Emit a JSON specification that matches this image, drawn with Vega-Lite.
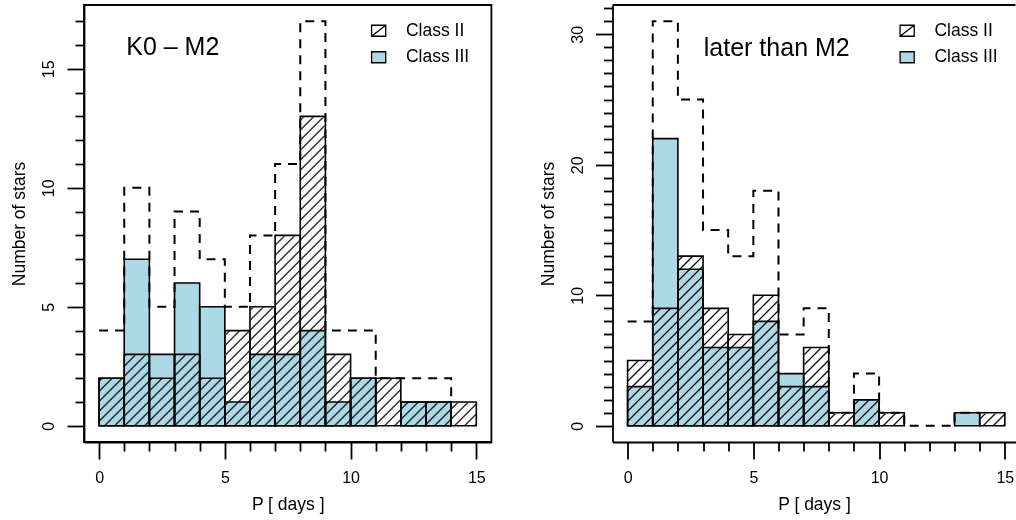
{
  "$schema": "https://vega.github.io/schema/vega-lite/v6.json",
  "padding": {"left": 9, "top": 4, "right": 0, "bottom": 0},
  "spacing": 45.5,
  "background": "white",
  "config": {
    "view": {"stroke": null},
    "font": "Liberation Sans",
    "axis": {"grid": false, "tickCount": 100, "format": "d", "domainColor": "black", "domainWidth": 1.8, "tickColor": "black", "tickWidth": 1.8, "labelColor": "black", "labelFont": "Liberation Sans", "labelFontSize": 16, "titleColor": "black", "titleFont": "Liberation Sans", "titleFontSize": 17.5, "titleFontWeight": "normal", "labelOverlap": false, "labelFlush": false},
    "axisX": {"labelPadding": 10.5, "titlePadding": 8.3, "minExtent": 45, "maxExtent": 45},
    "axisY": {"labelAngle": 270, "labelAlign": "center", "labelBaseline": "bottom", "labelPadding": 10.5, "titlePadding": 15.5, "minExtent": 40, "maxExtent": 40, "titleAngle": 270, "titleBaseline": "bottom"}
  },
  "resolve": {"scale": {"fill": "independent", "shape": "independent"}},
  "hconcat": [
    {
      "width": 407.4,
      "height": 437,
      "view": {"stroke": "black", "strokeWidth": 1.8},
      "data": {"values": [
        {"start": 0, "end": 1, "classII": 2, "classIII": 2, "total": 4},
        {"start": 1, "end": 2, "classII": 3, "classIII": 7, "total": 10},
        {"start": 2, "end": 3, "classII": 2, "classIII": 3, "total": 5},
        {"start": 3, "end": 4, "classII": 3, "classIII": 6, "total": 9},
        {"start": 4, "end": 5, "classII": 2, "classIII": 5, "total": 7},
        {"start": 5, "end": 6, "classII": 4, "classIII": 1, "total": 5},
        {"start": 6, "end": 7, "classII": 5, "classIII": 3, "total": 8},
        {"start": 7, "end": 8, "classII": 8, "classIII": 3, "total": 11},
        {"start": 8, "end": 9, "classII": 13, "classIII": 4, "total": 17},
        {"start": 9, "end": 10, "classII": 3, "classIII": 1, "total": 4},
        {"start": 10, "end": 11, "classII": 2, "classIII": 2, "total": 4},
        {"start": 11, "end": 12, "classII": 2, "classIII": 0, "total": 2},
        {"start": 12, "end": 13, "classII": 1, "classIII": 1, "total": 2},
        {"start": 13, "end": 14, "classII": 1, "classIII": 1, "total": 2},
        {"start": 14, "end": 15, "classII": 1, "classIII": 0, "total": 1}
      ]},
      "layer": [
        {
          "data": {"values": [{}]},
          "mark": {"type": "rect", "strokeWidth": 0, "fill": {"gradient": "linear", "x1": 0, "y1": 0, "x2": 1.0882, "y2": 0.8926, "stops": [
{"offset":0.0048,"color":"#fff"},{"offset":0.0073,"color":"#000"},{"offset":0.0098,"color":"#fff"},
{"offset":0.0193,"color":"#fff"},{"offset":0.0218,"color":"#000"},{"offset":0.0243,"color":"#fff"},
{"offset":0.0339,"color":"#fff"},{"offset":0.0364,"color":"#000"},{"offset":0.0389,"color":"#fff"},
{"offset":0.0485,"color":"#fff"},{"offset":0.0510,"color":"#000"},{"offset":0.0535,"color":"#fff"},
{"offset":0.0630,"color":"#fff"},{"offset":0.0655,"color":"#000"},{"offset":0.0680,"color":"#fff"},
{"offset":0.0776,"color":"#fff"},{"offset":0.0801,"color":"#000"},{"offset":0.0826,"color":"#fff"},
{"offset":0.0921,"color":"#fff"},{"offset":0.0946,"color":"#000"},{"offset":0.0971,"color":"#fff"},
{"offset":0.1067,"color":"#fff"},{"offset":0.1092,"color":"#000"},{"offset":0.1117,"color":"#fff"},
{"offset":0.1213,"color":"#fff"},{"offset":0.1238,"color":"#000"},{"offset":0.1263,"color":"#fff"},
{"offset":0.1358,"color":"#fff"},{"offset":0.1383,"color":"#000"},{"offset":0.1408,"color":"#fff"},
{"offset":0.1504,"color":"#fff"},{"offset":0.1529,"color":"#000"},{"offset":0.1554,"color":"#fff"},
{"offset":0.1649,"color":"#fff"},{"offset":0.1674,"color":"#000"},{"offset":0.1699,"color":"#fff"},
{"offset":0.1795,"color":"#fff"},{"offset":0.1820,"color":"#000"},{"offset":0.1845,"color":"#fff"},
{"offset":0.1941,"color":"#fff"},{"offset":0.1966,"color":"#000"},{"offset":0.1991,"color":"#fff"},
{"offset":0.2086,"color":"#fff"},{"offset":0.2111,"color":"#000"},{"offset":0.2136,"color":"#fff"},
{"offset":0.2232,"color":"#fff"},{"offset":0.2257,"color":"#000"},{"offset":0.2282,"color":"#fff"},
{"offset":0.2377,"color":"#fff"},{"offset":0.2402,"color":"#000"},{"offset":0.2427,"color":"#fff"},
{"offset":0.2523,"color":"#fff"},{"offset":0.2548,"color":"#000"},{"offset":0.2573,"color":"#fff"},
{"offset":0.2669,"color":"#fff"},{"offset":0.2694,"color":"#000"},{"offset":0.2719,"color":"#fff"},
{"offset":0.2814,"color":"#fff"},{"offset":0.2839,"color":"#000"},{"offset":0.2864,"color":"#fff"},
{"offset":0.2960,"color":"#fff"},{"offset":0.2985,"color":"#000"},{"offset":0.3010,"color":"#fff"},
{"offset":0.3105,"color":"#fff"},{"offset":0.3130,"color":"#000"},{"offset":0.3155,"color":"#fff"},
{"offset":0.3251,"color":"#fff"},{"offset":0.3276,"color":"#000"},{"offset":0.3301,"color":"#fff"},
{"offset":0.3397,"color":"#fff"},{"offset":0.3422,"color":"#000"},{"offset":0.3447,"color":"#fff"},
{"offset":0.3542,"color":"#fff"},{"offset":0.3567,"color":"#000"},{"offset":0.3592,"color":"#fff"},
{"offset":0.3688,"color":"#fff"},{"offset":0.3713,"color":"#000"},{"offset":0.3738,"color":"#fff"},
{"offset":0.3833,"color":"#fff"},{"offset":0.3858,"color":"#000"},{"offset":0.3883,"color":"#fff"},
{"offset":0.3979,"color":"#fff"},{"offset":0.4004,"color":"#000"},{"offset":0.4029,"color":"#fff"},
{"offset":0.4125,"color":"#fff"},{"offset":0.4150,"color":"#000"},{"offset":0.4175,"color":"#fff"},
{"offset":0.4270,"color":"#fff"},{"offset":0.4295,"color":"#000"},{"offset":0.4320,"color":"#fff"},
{"offset":0.4416,"color":"#fff"},{"offset":0.4441,"color":"#000"},{"offset":0.4466,"color":"#fff"},
{"offset":0.4561,"color":"#fff"},{"offset":0.4586,"color":"#000"},{"offset":0.4611,"color":"#fff"},
{"offset":0.4707,"color":"#fff"},{"offset":0.4732,"color":"#000"},{"offset":0.4757,"color":"#fff"},
{"offset":0.4853,"color":"#fff"},{"offset":0.4878,"color":"#000"},{"offset":0.4903,"color":"#fff"},
{"offset":0.4998,"color":"#fff"},{"offset":0.5023,"color":"#000"},{"offset":0.5048,"color":"#fff"},
{"offset":0.5144,"color":"#fff"},{"offset":0.5169,"color":"#000"},{"offset":0.5194,"color":"#fff"},
{"offset":0.5289,"color":"#fff"},{"offset":0.5314,"color":"#000"},{"offset":0.5339,"color":"#fff"},
{"offset":0.5435,"color":"#fff"},{"offset":0.5460,"color":"#000"},{"offset":0.5485,"color":"#fff"},
{"offset":0.5581,"color":"#fff"},{"offset":0.5606,"color":"#000"},{"offset":0.5631,"color":"#fff"},
{"offset":0.5726,"color":"#fff"},{"offset":0.5751,"color":"#000"},{"offset":0.5776,"color":"#fff"},
{"offset":0.5872,"color":"#fff"},{"offset":0.5897,"color":"#000"},{"offset":0.5922,"color":"#fff"},
{"offset":0.6017,"color":"#fff"},{"offset":0.6042,"color":"#000"},{"offset":0.6067,"color":"#fff"},
{"offset":0.6163,"color":"#fff"},{"offset":0.6188,"color":"#000"},{"offset":0.6213,"color":"#fff"},
{"offset":0.6309,"color":"#fff"},{"offset":0.6334,"color":"#000"},{"offset":0.6359,"color":"#fff"},
{"offset":0.6454,"color":"#fff"},{"offset":0.6479,"color":"#000"},{"offset":0.6504,"color":"#fff"},
{"offset":0.6600,"color":"#fff"},{"offset":0.6625,"color":"#000"},{"offset":0.6650,"color":"#fff"},
{"offset":0.6745,"color":"#fff"},{"offset":0.6770,"color":"#000"},{"offset":0.6795,"color":"#fff"},
{"offset":0.6891,"color":"#fff"},{"offset":0.6916,"color":"#000"},{"offset":0.6941,"color":"#fff"},
{"offset":0.7037,"color":"#fff"},{"offset":0.7062,"color":"#000"},{"offset":0.7087,"color":"#fff"},
{"offset":0.7182,"color":"#fff"},{"offset":0.7207,"color":"#000"},{"offset":0.7232,"color":"#fff"},
{"offset":0.7328,"color":"#fff"},{"offset":0.7353,"color":"#000"},{"offset":0.7378,"color":"#fff"},
{"offset":0.7473,"color":"#fff"},{"offset":0.7498,"color":"#000"},{"offset":0.7523,"color":"#fff"},
{"offset":0.7619,"color":"#fff"},{"offset":0.7644,"color":"#000"},{"offset":0.7669,"color":"#fff"},
{"offset":0.7765,"color":"#fff"},{"offset":0.7790,"color":"#000"},{"offset":0.7815,"color":"#fff"},
{"offset":0.7910,"color":"#fff"},{"offset":0.7935,"color":"#000"},{"offset":0.7960,"color":"#fff"},
{"offset":0.8056,"color":"#fff"},{"offset":0.8081,"color":"#000"},{"offset":0.8106,"color":"#fff"},
{"offset":0.8201,"color":"#fff"},{"offset":0.8226,"color":"#000"},{"offset":0.8251,"color":"#fff"},
{"offset":0.8347,"color":"#fff"},{"offset":0.8372,"color":"#000"},{"offset":0.8397,"color":"#fff"},
{"offset":0.8493,"color":"#fff"},{"offset":0.8518,"color":"#000"},{"offset":0.8543,"color":"#fff"},
{"offset":0.8638,"color":"#fff"},{"offset":0.8663,"color":"#000"},{"offset":0.8688,"color":"#fff"},
{"offset":0.8784,"color":"#fff"},{"offset":0.8809,"color":"#000"},{"offset":0.8834,"color":"#fff"},
{"offset":0.8929,"color":"#fff"},{"offset":0.8954,"color":"#000"},{"offset":0.8979,"color":"#fff"},
{"offset":0.9075,"color":"#fff"},{"offset":0.9100,"color":"#000"},{"offset":0.9125,"color":"#fff"},
{"offset":0.9221,"color":"#fff"},{"offset":0.9246,"color":"#000"},{"offset":0.9271,"color":"#fff"},
{"offset":0.9366,"color":"#fff"},{"offset":0.9391,"color":"#000"},{"offset":0.9416,"color":"#fff"},
{"offset":0.9512,"color":"#fff"},{"offset":0.9537,"color":"#000"},{"offset":0.9562,"color":"#fff"},
{"offset":0.9657,"color":"#fff"},{"offset":0.9682,"color":"#000"},{"offset":0.9707,"color":"#fff"},
{"offset":0.9803,"color":"#fff"},{"offset":0.9828,"color":"#000"},{"offset":0.9853,"color":"#fff"},
{"offset":0.9949,"color":"#fff"},{"offset":0.9974,"color":"#000"},{"offset":0.9999,"color":"#fff"}
          ]}},
          "encoding": {
            "x": {"datum": 0, "type": "quantitative",
              "scale": {"domain": [-0.6, 15.6], "nice": false, "zero": false},
              "axis": {"title": "P [ days ]", "values": [0,1,2,3,4,5,6,7,8,9,10,11,12,13,14,15],
                "labelExpr": "datum.value % 5 === 0 ? datum.label : ''",
                "tickSize": {"condition": {"test": "datum.value % 5 === 0", "value": 17}, "value": 9}}},
            "x2": {"datum": 15},
            "y": {"datum": 0, "type": "quantitative",
              "scale": {"domain": [-0.68, 17.68], "nice": false, "zero": false},
              "axis": {"title": "Number of stars", "values": [0,1,2,3,4,5,6,7,8,9,10,11,12,13,14,15,16,17],
                "labelExpr": "datum.value % 5 === 0 ? datum.label : ''",
                "tickSize": {"condition": {"test": "datum.value % 5 === 0", "value": 17}, "value": 9}}},
            "y2": {"datum": 13}
          }
        },
        {
          "mark": {"type": "rect", "fill": "white", "stroke": "white", "strokeWidth": 1.5},
          "encoding": {
            "x": {"field": "start", "type": "quantitative"},
            "x2": {"field": "end"},
            "y": {"field": "classII", "type": "quantitative"},
            "y2": {"datum": 13}
          }
        },
        {
          "transform": [{"filter": "datum.classIII > 0"}],
          "mark": {"type": "rect", "fill": "#ADD8E6", "stroke": "black", "strokeWidth": 1.6, "blend": "multiply"},
          "encoding": {
            "x": {"field": "start", "type": "quantitative"},
            "x2": {"field": "end"},
            "y": {"field": "classIII", "type": "quantitative"},
            "y2": {"datum": 0}
          }
        },
        {
          "transform": [{"filter": "datum.classII > 0"}],
          "mark": {"type": "rect", "fill": "white", "fillOpacity": 0, "stroke": "black", "strokeWidth": 1.6},
          "encoding": {
            "x": {"field": "start", "type": "quantitative"},
            "x2": {"field": "end"},
            "y": {"field": "classII", "type": "quantitative"},
            "y2": {"datum": 0}
          }
        },
        {
          "mark": {"type": "line", "interpolate": "step-after", "color": "black", "strokeWidth": 2, "strokeDash": [9, 7]},
          "encoding": {
            "x": {"field": "start", "type": "quantitative"},
            "y": {"field": "total", "type": "quantitative"}
          }
        },
        {
          "data": {"values": [{}]},
          "mark": {"type": "text", "text": "K0 – M2", "align": "left", "baseline": "alphabetic", "fontSize": 25, "font": "Liberation Sans", "color": "black"},
          "encoding": {
            "x": {"datum": 1.08, "type": "quantitative"},
            "y": {"datum": 15.6, "type": "quantitative"}
          }
        },
        {
          "data": {"values": [{"cls": "Class II"}, {"cls": "Class III"}]},
          "mark": {"type": "point", "filled": true, "opacity": 0, "stroke": "black", "strokeWidth": 1.3},
          "encoding": {
            "fill": {"field": "cls", "type": "nominal",
              "scale": {"domain": ["Class II", "Class III"], "range": ["white", "#ADD8E6"]},
              "legend": {"title": null, "orient": "none", "legendX": 285.9, "legendY": 17, "padding": 0, "rowPadding": 7.5, "labelOffset": 18.5, "symbolSize": 200, "symbolStrokeColor": "black", "symbolStrokeWidth": 1.3, "symbolOpacity": 1, "labelFont": "Liberation Sans", "labelFontSize": 17.5, "labelColor": "black",
                "encode": {"symbols": {"update": {"stroke": {"value": "black"}, "strokeWidth": {"value": 1.3}, "opacity": {"value": 1}, "strokeOpacity": {"value": 1}}}}}},
            "shape": {"field": "cls", "type": "nominal",
              "scale": {"domain": ["Class II", "Class III"], "range": ["M-1,-0.78H1V0.78H-1ZM-1,0.78L1,-0.78", "M-1,-0.78H1V0.78H-1Z"]},
              "legend": {"title": null, "orient": "none", "legendX": 285.9, "legendY": 17, "padding": 0, "rowPadding": 7.5, "labelOffset": 18.5, "symbolSize": 200, "symbolStrokeColor": "black", "symbolStrokeWidth": 1.3, "symbolOpacity": 1, "labelFont": "Liberation Sans", "labelFontSize": 17.5, "labelColor": "black",
                "encode": {"symbols": {"update": {"stroke": {"value": "black"}, "strokeWidth": {"value": 1.3}, "opacity": {"value": 1}, "strokeOpacity": {"value": 1}}}}}}
          }
        }
      ]
    },
    {
      "width": 403,
      "height": 437,
      "data": {"values": [
        {"start": 0, "end": 1, "classII": 5, "classIII": 3, "total": 8},
        {"start": 1, "end": 2, "classII": 9, "classIII": 22, "total": 31},
        {"start": 2, "end": 3, "classII": 13, "classIII": 12, "total": 25},
        {"start": 3, "end": 4, "classII": 9, "classIII": 6, "total": 15},
        {"start": 4, "end": 5, "classII": 7, "classIII": 6, "total": 13},
        {"start": 5, "end": 6, "classII": 10, "classIII": 8, "total": 18},
        {"start": 6, "end": 7, "classII": 3, "classIII": 4, "total": 7},
        {"start": 7, "end": 8, "classII": 6, "classIII": 3, "total": 9},
        {"start": 8, "end": 9, "classII": 1, "classIII": 0, "total": 1},
        {"start": 9, "end": 10, "classII": 2, "classIII": 2, "total": 4},
        {"start": 10, "end": 11, "classII": 1, "classIII": 0, "total": 1},
        {"start": 11, "end": 12, "classII": 0, "classIII": 0, "total": 0},
        {"start": 12, "end": 13, "classII": 0, "classIII": 0, "total": 0},
        {"start": 13, "end": 14, "classII": 0, "classIII": 1, "total": 1},
        {"start": 14, "end": 15, "classII": 1, "classIII": 0, "total": 1}
      ]},
      "layer": [
        {
          "data": {"values": [{}]},
          "mark": {"type": "rect", "strokeWidth": 0, "fill": {"gradient": "linear", "x1": 0, "y1": 0, "x2": 1.0882, "y2": 0.8926, "stops": [
{"offset":0.0048,"color":"#fff"},{"offset":0.0073,"color":"#000"},{"offset":0.0098,"color":"#fff"},
{"offset":0.0193,"color":"#fff"},{"offset":0.0218,"color":"#000"},{"offset":0.0243,"color":"#fff"},
{"offset":0.0339,"color":"#fff"},{"offset":0.0364,"color":"#000"},{"offset":0.0389,"color":"#fff"},
{"offset":0.0485,"color":"#fff"},{"offset":0.0510,"color":"#000"},{"offset":0.0535,"color":"#fff"},
{"offset":0.0630,"color":"#fff"},{"offset":0.0655,"color":"#000"},{"offset":0.0680,"color":"#fff"},
{"offset":0.0776,"color":"#fff"},{"offset":0.0801,"color":"#000"},{"offset":0.0826,"color":"#fff"},
{"offset":0.0921,"color":"#fff"},{"offset":0.0946,"color":"#000"},{"offset":0.0971,"color":"#fff"},
{"offset":0.1067,"color":"#fff"},{"offset":0.1092,"color":"#000"},{"offset":0.1117,"color":"#fff"},
{"offset":0.1213,"color":"#fff"},{"offset":0.1238,"color":"#000"},{"offset":0.1263,"color":"#fff"},
{"offset":0.1358,"color":"#fff"},{"offset":0.1383,"color":"#000"},{"offset":0.1408,"color":"#fff"},
{"offset":0.1504,"color":"#fff"},{"offset":0.1529,"color":"#000"},{"offset":0.1554,"color":"#fff"},
{"offset":0.1649,"color":"#fff"},{"offset":0.1674,"color":"#000"},{"offset":0.1699,"color":"#fff"},
{"offset":0.1795,"color":"#fff"},{"offset":0.1820,"color":"#000"},{"offset":0.1845,"color":"#fff"},
{"offset":0.1941,"color":"#fff"},{"offset":0.1966,"color":"#000"},{"offset":0.1991,"color":"#fff"},
{"offset":0.2086,"color":"#fff"},{"offset":0.2111,"color":"#000"},{"offset":0.2136,"color":"#fff"},
{"offset":0.2232,"color":"#fff"},{"offset":0.2257,"color":"#000"},{"offset":0.2282,"color":"#fff"},
{"offset":0.2377,"color":"#fff"},{"offset":0.2402,"color":"#000"},{"offset":0.2427,"color":"#fff"},
{"offset":0.2523,"color":"#fff"},{"offset":0.2548,"color":"#000"},{"offset":0.2573,"color":"#fff"},
{"offset":0.2669,"color":"#fff"},{"offset":0.2694,"color":"#000"},{"offset":0.2719,"color":"#fff"},
{"offset":0.2814,"color":"#fff"},{"offset":0.2839,"color":"#000"},{"offset":0.2864,"color":"#fff"},
{"offset":0.2960,"color":"#fff"},{"offset":0.2985,"color":"#000"},{"offset":0.3010,"color":"#fff"},
{"offset":0.3105,"color":"#fff"},{"offset":0.3130,"color":"#000"},{"offset":0.3155,"color":"#fff"},
{"offset":0.3251,"color":"#fff"},{"offset":0.3276,"color":"#000"},{"offset":0.3301,"color":"#fff"},
{"offset":0.3397,"color":"#fff"},{"offset":0.3422,"color":"#000"},{"offset":0.3447,"color":"#fff"},
{"offset":0.3542,"color":"#fff"},{"offset":0.3567,"color":"#000"},{"offset":0.3592,"color":"#fff"},
{"offset":0.3688,"color":"#fff"},{"offset":0.3713,"color":"#000"},{"offset":0.3738,"color":"#fff"},
{"offset":0.3833,"color":"#fff"},{"offset":0.3858,"color":"#000"},{"offset":0.3883,"color":"#fff"},
{"offset":0.3979,"color":"#fff"},{"offset":0.4004,"color":"#000"},{"offset":0.4029,"color":"#fff"},
{"offset":0.4125,"color":"#fff"},{"offset":0.4150,"color":"#000"},{"offset":0.4175,"color":"#fff"},
{"offset":0.4270,"color":"#fff"},{"offset":0.4295,"color":"#000"},{"offset":0.4320,"color":"#fff"},
{"offset":0.4416,"color":"#fff"},{"offset":0.4441,"color":"#000"},{"offset":0.4466,"color":"#fff"},
{"offset":0.4561,"color":"#fff"},{"offset":0.4586,"color":"#000"},{"offset":0.4611,"color":"#fff"},
{"offset":0.4707,"color":"#fff"},{"offset":0.4732,"color":"#000"},{"offset":0.4757,"color":"#fff"},
{"offset":0.4853,"color":"#fff"},{"offset":0.4878,"color":"#000"},{"offset":0.4903,"color":"#fff"},
{"offset":0.4998,"color":"#fff"},{"offset":0.5023,"color":"#000"},{"offset":0.5048,"color":"#fff"},
{"offset":0.5144,"color":"#fff"},{"offset":0.5169,"color":"#000"},{"offset":0.5194,"color":"#fff"},
{"offset":0.5289,"color":"#fff"},{"offset":0.5314,"color":"#000"},{"offset":0.5339,"color":"#fff"},
{"offset":0.5435,"color":"#fff"},{"offset":0.5460,"color":"#000"},{"offset":0.5485,"color":"#fff"},
{"offset":0.5581,"color":"#fff"},{"offset":0.5606,"color":"#000"},{"offset":0.5631,"color":"#fff"},
{"offset":0.5726,"color":"#fff"},{"offset":0.5751,"color":"#000"},{"offset":0.5776,"color":"#fff"},
{"offset":0.5872,"color":"#fff"},{"offset":0.5897,"color":"#000"},{"offset":0.5922,"color":"#fff"},
{"offset":0.6017,"color":"#fff"},{"offset":0.6042,"color":"#000"},{"offset":0.6067,"color":"#fff"},
{"offset":0.6163,"color":"#fff"},{"offset":0.6188,"color":"#000"},{"offset":0.6213,"color":"#fff"},
{"offset":0.6309,"color":"#fff"},{"offset":0.6334,"color":"#000"},{"offset":0.6359,"color":"#fff"},
{"offset":0.6454,"color":"#fff"},{"offset":0.6479,"color":"#000"},{"offset":0.6504,"color":"#fff"},
{"offset":0.6600,"color":"#fff"},{"offset":0.6625,"color":"#000"},{"offset":0.6650,"color":"#fff"},
{"offset":0.6745,"color":"#fff"},{"offset":0.6770,"color":"#000"},{"offset":0.6795,"color":"#fff"},
{"offset":0.6891,"color":"#fff"},{"offset":0.6916,"color":"#000"},{"offset":0.6941,"color":"#fff"},
{"offset":0.7037,"color":"#fff"},{"offset":0.7062,"color":"#000"},{"offset":0.7087,"color":"#fff"},
{"offset":0.7182,"color":"#fff"},{"offset":0.7207,"color":"#000"},{"offset":0.7232,"color":"#fff"},
{"offset":0.7328,"color":"#fff"},{"offset":0.7353,"color":"#000"},{"offset":0.7378,"color":"#fff"},
{"offset":0.7473,"color":"#fff"},{"offset":0.7498,"color":"#000"},{"offset":0.7523,"color":"#fff"},
{"offset":0.7619,"color":"#fff"},{"offset":0.7644,"color":"#000"},{"offset":0.7669,"color":"#fff"},
{"offset":0.7765,"color":"#fff"},{"offset":0.7790,"color":"#000"},{"offset":0.7815,"color":"#fff"},
{"offset":0.7910,"color":"#fff"},{"offset":0.7935,"color":"#000"},{"offset":0.7960,"color":"#fff"},
{"offset":0.8056,"color":"#fff"},{"offset":0.8081,"color":"#000"},{"offset":0.8106,"color":"#fff"},
{"offset":0.8201,"color":"#fff"},{"offset":0.8226,"color":"#000"},{"offset":0.8251,"color":"#fff"},
{"offset":0.8347,"color":"#fff"},{"offset":0.8372,"color":"#000"},{"offset":0.8397,"color":"#fff"},
{"offset":0.8493,"color":"#fff"},{"offset":0.8518,"color":"#000"},{"offset":0.8543,"color":"#fff"},
{"offset":0.8638,"color":"#fff"},{"offset":0.8663,"color":"#000"},{"offset":0.8688,"color":"#fff"},
{"offset":0.8784,"color":"#fff"},{"offset":0.8809,"color":"#000"},{"offset":0.8834,"color":"#fff"},
{"offset":0.8929,"color":"#fff"},{"offset":0.8954,"color":"#000"},{"offset":0.8979,"color":"#fff"},
{"offset":0.9075,"color":"#fff"},{"offset":0.9100,"color":"#000"},{"offset":0.9125,"color":"#fff"},
{"offset":0.9221,"color":"#fff"},{"offset":0.9246,"color":"#000"},{"offset":0.9271,"color":"#fff"},
{"offset":0.9366,"color":"#fff"},{"offset":0.9391,"color":"#000"},{"offset":0.9416,"color":"#fff"},
{"offset":0.9512,"color":"#fff"},{"offset":0.9537,"color":"#000"},{"offset":0.9562,"color":"#fff"},
{"offset":0.9657,"color":"#fff"},{"offset":0.9682,"color":"#000"},{"offset":0.9707,"color":"#fff"},
{"offset":0.9803,"color":"#fff"},{"offset":0.9828,"color":"#000"},{"offset":0.9853,"color":"#fff"},
{"offset":0.9949,"color":"#fff"},{"offset":0.9974,"color":"#000"},{"offset":0.9999,"color":"#fff"}
          ]}},
          "encoding": {
            "x": {"datum": 0, "type": "quantitative",
              "scale": {"domain": [-0.6, 15.424], "nice": false, "zero": false},
              "axis": {"title": "P [ days ]", "values": [0,1,2,3,4,5,6,7,8,9,10,11,12,13,14,15],
                "labelExpr": "datum.value % 5 === 0 ? datum.label : ''",
                "tickSize": {"condition": {"test": "datum.value % 5 === 0", "value": 17}, "value": 9}}},
            "x2": {"datum": 15},
            "y": {"datum": 0, "type": "quantitative",
              "scale": {"domain": [-1.24, 32.24], "nice": false, "zero": false},
              "axis": {"title": "Number of stars", "values": [0,1,2,3,4,5,6,7,8,9,10,11,12,13,14,15,16,17,18,19,20,21,22,23,24,25,26,27,28,29,30,31,32],
                "labelExpr": "datum.value % 10 === 0 ? datum.label : ''",
                "tickSize": {"condition": {"test": "datum.value % 10 === 0", "value": 17}, "value": 9}}},
            "y2": {"datum": 23.7}
          }
        },
        {
          "mark": {"type": "rect", "fill": "white", "stroke": "white", "strokeWidth": 1.5},
          "encoding": {
            "x": {"field": "start", "type": "quantitative"},
            "x2": {"field": "end"},
            "y": {"field": "classII", "type": "quantitative"},
            "y2": {"datum": 23.7}
          }
        },
        {
          "transform": [{"filter": "datum.classIII > 0"}],
          "mark": {"type": "rect", "fill": "#ADD8E6", "stroke": "black", "strokeWidth": 1.6, "blend": "multiply"},
          "encoding": {
            "x": {"field": "start", "type": "quantitative"},
            "x2": {"field": "end"},
            "y": {"field": "classIII", "type": "quantitative"},
            "y2": {"datum": 0}
          }
        },
        {
          "transform": [{"filter": "datum.classII > 0"}],
          "mark": {"type": "rect", "fill": "white", "fillOpacity": 0, "stroke": "black", "strokeWidth": 1.6},
          "encoding": {
            "x": {"field": "start", "type": "quantitative"},
            "x2": {"field": "end"},
            "y": {"field": "classII", "type": "quantitative"},
            "y2": {"datum": 0}
          }
        },
        {
          "mark": {"type": "line", "interpolate": "step-after", "color": "black", "strokeWidth": 2, "strokeDash": [9, 7]},
          "encoding": {
            "x": {"field": "start", "type": "quantitative"},
            "y": {"field": "total", "type": "quantitative"}
          }
        },
        {
          "data": {"values": [{}]},
          "mark": {"type": "rule", "color": "black", "strokeWidth": 1.8},
          "encoding": {
            "x": {"datum": -0.6, "type": "quantitative"},
            "x2": {"datum": 15.424},
            "y": {"datum": 32.24, "type": "quantitative"}
          }
        },
        {
          "data": {"values": [{}]},
          "mark": {"type": "text", "text": "later than M2", "align": "left", "baseline": "alphabetic", "fontSize": 25, "font": "Liberation Sans", "color": "black"},
          "encoding": {
            "x": {"datum": 3.03, "type": "quantitative"},
            "y": {"datum": 28.3, "type": "quantitative"}
          }
        },
        {
          "data": {"values": [{"cls": "Class II"}, {"cls": "Class III"}]},
          "mark": {"type": "point", "filled": true, "opacity": 0, "stroke": "black", "strokeWidth": 1.3},
          "encoding": {
            "fill": {"field": "cls", "type": "nominal",
              "scale": {"domain": ["Class II", "Class III"], "range": ["white", "#ADD8E6"]},
              "legend": {"title": null, "orient": "none", "legendX": 285.9, "legendY": 17, "padding": 0, "rowPadding": 7.5, "labelOffset": 18.5, "symbolSize": 200, "symbolStrokeColor": "black", "symbolStrokeWidth": 1.3, "symbolOpacity": 1, "labelFont": "Liberation Sans", "labelFontSize": 17.5, "labelColor": "black",
                "encode": {"symbols": {"update": {"stroke": {"value": "black"}, "strokeWidth": {"value": 1.3}, "opacity": {"value": 1}, "strokeOpacity": {"value": 1}}}}}},
            "shape": {"field": "cls", "type": "nominal",
              "scale": {"domain": ["Class II", "Class III"], "range": ["M-1,-0.78H1V0.78H-1ZM-1,0.78L1,-0.78", "M-1,-0.78H1V0.78H-1Z"]},
              "legend": {"title": null, "orient": "none", "legendX": 285.9, "legendY": 17, "padding": 0, "rowPadding": 7.5, "labelOffset": 18.5, "symbolSize": 200, "symbolStrokeColor": "black", "symbolStrokeWidth": 1.3, "symbolOpacity": 1, "labelFont": "Liberation Sans", "labelFontSize": 17.5, "labelColor": "black",
                "encode": {"symbols": {"update": {"stroke": {"value": "black"}, "strokeWidth": {"value": 1.3}, "opacity": {"value": 1}, "strokeOpacity": {"value": 1}}}}}}
          }
        }
      ]
    }
  ]
}
